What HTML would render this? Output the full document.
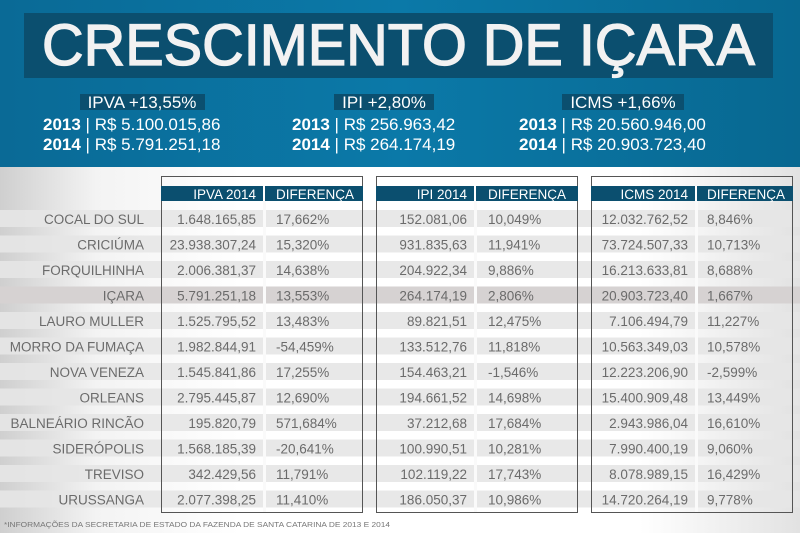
<!DOCTYPE html>
<html><head><meta charset="utf-8"><style>
html,body{margin:0;padding:0;width:800px;height:533px;overflow:hidden}
svg{display:block}
text{font-family:"Liberation Sans",Arial,sans-serif}
.n{font-size:13.5px;fill:#6b6b6b}
.h{font-size:13.5px;fill:#fff}
.s{font-size:17px;fill:#fff}
.b{font-weight:bold}
</style></head><body>
<svg width="800" height="533" viewBox="0 0 800 533" xmlns="http://www.w3.org/2000/svg">
<defs>
<linearGradient id="blue" x1="0" y1="0" x2="1" y2="0">
<stop offset="0" stop-color="#0a6a96"/><stop offset="0.5" stop-color="#0b79a8"/><stop offset="1" stop-color="#086891"/>
</linearGradient>
<linearGradient id="low" x1="0" y1="0" x2="1" y2="0">
<stop offset="0" stop-color="#cfcfcf"/><stop offset="0.12" stop-color="#f3f3f3"/><stop offset="0.3" stop-color="#ffffff"/><stop offset="0.8" stop-color="#ffffff"/><stop offset="1" stop-color="#e2e2e2"/>
</linearGradient>
</defs>
<rect x="0" y="0" width="800" height="167" fill="url(#blue)"/>
<rect x="0" y="167" width="800" height="366" fill="url(#low)"/>
<rect x="24" y="13" width="749" height="65" fill="#0b4f6f"/>
<text x="42" y="65" font-size="58" fill="#f2f2f2" stroke="#f2f2f2" stroke-width="1.3" textLength="713" lengthAdjust="spacingAndGlyphs">CRESCIMENTO DE IÇARA</text>

<rect x="80" y="94" width="125" height="16" fill="#0b4f6f"/>
<text x="142" y="108" class="s" text-anchor="middle">IPVA +13,55%</text>
<rect x="334" y="94" width="100" height="16" fill="#0b4f6f"/>
<text x="384" y="108" class="s" text-anchor="middle">IPI +2,80%</text>
<rect x="562" y="94" width="122" height="16" fill="#0b4f6f"/>
<text x="623" y="108" class="s" text-anchor="middle">ICMS +1,66%</text>

<text x="43" y="130" class="s"><tspan class="b">2013</tspan> | R$ 5.100.015,86</text>
<text x="43" y="150" class="s"><tspan class="b">2014</tspan> | R$ 5.791.251,18</text>
<text x="292" y="130" class="s"><tspan class="b">2013</tspan> | R$ 256.963,42</text>
<text x="292" y="150" class="s"><tspan class="b">2014</tspan> | R$ 264.174,19</text>
<text x="519" y="130" class="s"><tspan class="b">2013</tspan> | R$ 20.560.946,00</text>
<text x="519" y="150" class="s"><tspan class="b">2014</tspan> | R$ 20.903.723,40</text>

<g id="rows">
<rect x="0" y="210" width="800" height="17" fill="#e6e6e6" opacity="0.9"/>
<rect x="0" y="235.5" width="800" height="17" fill="#e6e6e6" opacity="0.9"/>
<rect x="0" y="261" width="800" height="17" fill="#e6e6e6" opacity="0.9"/>
<rect x="0" y="286.5" width="800" height="17" fill="#d6d2d2"/>
<rect x="0" y="312" width="800" height="17" fill="#e6e6e6" opacity="0.9"/>
<rect x="0" y="337.5" width="800" height="17" fill="#e6e6e6" opacity="0.9"/>
<rect x="0" y="363" width="800" height="17" fill="#e6e6e6" opacity="0.9"/>
<rect x="0" y="388.5" width="800" height="17" fill="#e6e6e6" opacity="0.9"/>
<rect x="0" y="414" width="800" height="17" fill="#e6e6e6" opacity="0.9"/>
<rect x="0" y="439.5" width="800" height="17" fill="#e6e6e6" opacity="0.9"/>
<rect x="0" y="465" width="800" height="17" fill="#e6e6e6" opacity="0.9"/>
<rect x="0" y="490.5" width="800" height="17" fill="#e6e6e6" opacity="0.9"/>
</g>
<g fill="#fafafa">
<rect x="263" y="200" width="3" height="312"/>
<rect x="474" y="200" width="3" height="312"/>
<rect x="695" y="200" width="3" height="312"/>
</g>

<g fill="none" stroke="#555" stroke-width="1">
<rect x="161.5" y="176.5" width="201" height="336"/>
<rect x="376.5" y="176.5" width="201" height="336"/>
<rect x="591.5" y="176.5" width="201" height="336"/>
</g>
<g fill="#0b4f6f">
<rect x="161" y="186" width="202" height="15"/>
<rect x="376" y="186" width="202" height="15"/>
<rect x="591" y="186" width="202" height="15"/>
</g>
<g fill="#fff">
<rect x="263" y="186" width="2" height="15"/>
<rect x="474" y="186" width="2" height="15"/>
<rect x="695" y="186" width="2" height="15"/>
</g>
<text x="256" y="199" class="h" text-anchor="end">IPVA 2014</text>
<text x="276" y="199" class="h">DIFERENÇA</text>
<text x="467" y="199" class="h" text-anchor="end">IPI 2014</text>
<text x="488" y="199" class="h">DIFERENÇA</text>
<text x="688" y="199" class="h" text-anchor="end">ICMS 2014</text>
<text x="707" y="199" class="h">DIFERENÇA</text>

<g class="n" text-anchor="end">
<text x="144" y="224">COCAL DO SUL</text>
<text x="144" y="249.5">CRICIÚMA</text>
<text x="144" y="275">FORQUILHINHA</text>
<text x="144" y="300.5">IÇARA</text>
<text x="144" y="326">LAURO MULLER</text>
<text x="144" y="351.5">MORRO DA FUMAÇA</text>
<text x="144" y="377">NOVA VENEZA</text>
<text x="144" y="402.5">ORLEANS</text>
<text x="144" y="428">BALNEÁRIO RINCÃO</text>
<text x="144" y="453.5">SIDERÓPOLIS</text>
<text x="144" y="479">TREVISO</text>
<text x="144" y="504.5">URUSSANGA</text>
</g>
<g class="n" text-anchor="end">
<text x="256" y="224">1.648.165,85</text>
<text x="256" y="249.5">23.938.307,24</text>
<text x="256" y="275">2.006.381,37</text>
<text x="256" y="300.5">5.791.251,18</text>
<text x="256" y="326">1.525.795,52</text>
<text x="256" y="351.5">1.982.844,91</text>
<text x="256" y="377">1.545.841,86</text>
<text x="256" y="402.5">2.795.445,87</text>
<text x="256" y="428">195.820,79</text>
<text x="256" y="453.5">1.568.185,39</text>
<text x="256" y="479">342.429,56</text>
<text x="256" y="504.5">2.077.398,25</text>
</g>
<g class="n">
<text x="276" y="224">17,662%</text>
<text x="276" y="249.5">15,320%</text>
<text x="276" y="275">14,638%</text>
<text x="276" y="300.5">13,553%</text>
<text x="276" y="326">13,483%</text>
<text x="276" y="351.5">-54,459%</text>
<text x="276" y="377">17,255%</text>
<text x="276" y="402.5">12,690%</text>
<text x="276" y="428">571,684%</text>
<text x="276" y="453.5">-20,641%</text>
<text x="276" y="479">11,791%</text>
<text x="276" y="504.5">11,410%</text>
</g>
<g class="n" text-anchor="end">
<text x="467" y="224">152.081,06</text>
<text x="467" y="249.5">931.835,63</text>
<text x="467" y="275">204.922,34</text>
<text x="467" y="300.5">264.174,19</text>
<text x="467" y="326">89.821,51</text>
<text x="467" y="351.5">133.512,76</text>
<text x="467" y="377">154.463,21</text>
<text x="467" y="402.5">194.661,52</text>
<text x="467" y="428">37.212,68</text>
<text x="467" y="453.5">100.990,51</text>
<text x="467" y="479">102.119,22</text>
<text x="467" y="504.5">186.050,37</text>
</g>
<g class="n">
<text x="488" y="224">10,049%</text>
<text x="488" y="249.5">11,941%</text>
<text x="488" y="275">9,886%</text>
<text x="488" y="300.5">2,806%</text>
<text x="488" y="326">12,475%</text>
<text x="488" y="351.5">11,818%</text>
<text x="488" y="377">-1,546%</text>
<text x="488" y="402.5">14,698%</text>
<text x="488" y="428">17,684%</text>
<text x="488" y="453.5">10,281%</text>
<text x="488" y="479">17,743%</text>
<text x="488" y="504.5">10,986%</text>
</g>
<g class="n" text-anchor="end">
<text x="688" y="224">12.032.762,52</text>
<text x="688" y="249.5">73.724.507,33</text>
<text x="688" y="275">16.213.633,81</text>
<text x="688" y="300.5">20.903.723,40</text>
<text x="688" y="326">7.106.494,79</text>
<text x="688" y="351.5">10.563.349,03</text>
<text x="688" y="377">12.223.206,90</text>
<text x="688" y="402.5">15.400.909,48</text>
<text x="688" y="428">2.943.986,04</text>
<text x="688" y="453.5">7.990.400,19</text>
<text x="688" y="479">8.078.989,15</text>
<text x="688" y="504.5">14.720.264,19</text>
</g>
<g class="n">
<text x="707" y="224">8,846%</text>
<text x="707" y="249.5">10,713%</text>
<text x="707" y="275">8,688%</text>
<text x="707" y="300.5">1,667%</text>
<text x="707" y="326">11,227%</text>
<text x="707" y="351.5">10,578%</text>
<text x="707" y="377">-2,599%</text>
<text x="707" y="402.5">13,449%</text>
<text x="707" y="428">16,610%</text>
<text x="707" y="453.5">9,060%</text>
<text x="707" y="479">16,429%</text>
<text x="707" y="504.5">9,778%</text>
</g>
<text x="4" y="527" font-size="7.5" fill="#777" textLength="386" lengthAdjust="spacingAndGlyphs">*INFORMAÇÕES DA SECRETARIA DE ESTADO DA FAZENDA DE SANTA CATARINA DE 2013 E 2014</text>
</svg>
</body></html>
